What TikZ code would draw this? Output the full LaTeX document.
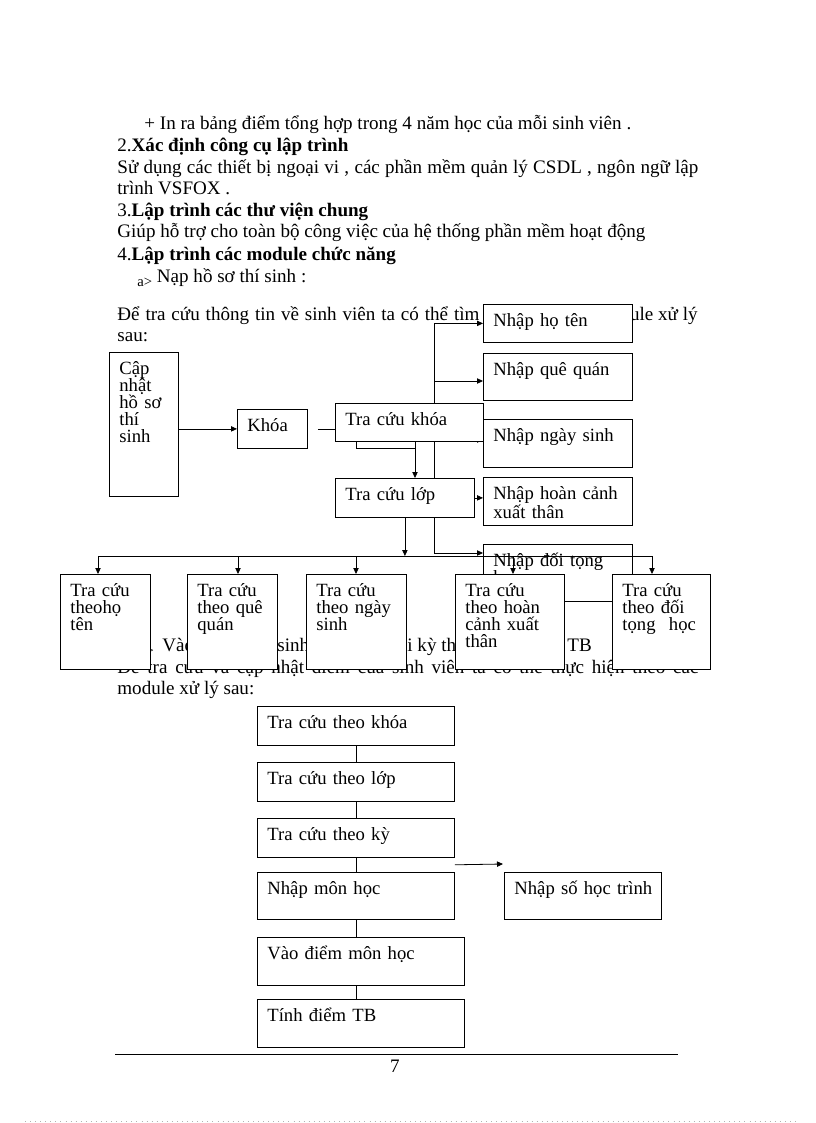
\documentclass[tikz,border=0pt]{standalone}
\usepackage{fontspec}
\setmainfont{Liberation Serif}
\usetikzlibrary{arrows.meta,calc}
\setlength{\lineskiplimit}{-20pt}

\begin{document}
\begin{tikzpicture}[x=0.75pt,y=-0.75pt,line width=0.6pt,
  txt/.style={anchor=base west,inner sep=0pt,font=\fontsize{14.3}{16}\selectfont},
  blk/.style 2 args={draw,fill=white,anchor=north west,inner xsep=7.5pt,inner ysep=0pt,
    align=left,font=\fontsize{14}{12.75}\selectfont,
    text width={(#1-20)*0.75pt},text height=16.5pt,text depth={(#2-22)*0.75pt}},
  arr/.style={-{Triangle[length=4.5pt,width=4pt]}}]

  % Page
  \useasboundingbox (0,0) rectangle (816,1123);
  \fill[white] (0,0) rectangle (816,1123);

  % Body text
  \node[txt] (plus) at (144,130) {+ In ra bảng điểm tổng hợp trong 4 năm học của mỗi sinh viên .};
  \node[txt] (h2) at (117,152) {2.\textbf{Xác định công cụ lập trình}};
  \node[txt] (p2a) at (117,174) {\makebox[435.75pt][s]{Sử dụng các thiết bị ngoại vi , các phần mềm quản lý CSDL , ngôn ngữ lập}};
  \node[txt] (p2b) at (117,195) {trình VSFOX .};
  \node[txt] (h3) at (117,217) {3.\textbf{Lập trình các thư viện chung}};
  \node[txt] (p3) at (117,238) {Giúp hỗ trợ cho toàn bộ công việc của hệ thống phần mềm hoạt động};
  \node[txt] (h4) at (117,260) {4.\textbf{Lập trình các module chức năng}};
  \node[txt] (ha) at (137,282) {\raisebox{-3pt}{\fontsize{11}{12}\selectfont a>} Nạp hồ sơ thí sinh :};
  \node[txt] (pa1) at (117,320) {\makebox[271.5pt][s]{Để tra cứu thông tin về sinh viên ta có thể tìm}};
  \node[txt,anchor=base east] (pa2) at (698,320) {ule xử lý};
  \node[txt] (pa3) at (117,341) {sau:};

  % Text under the lower boxes
  \node[txt] (hb) at (138,651) {\raisebox{-3pt}{\fontsize{11}{12}\selectfont b>}};
  \node[txt] (hb1) at (162,651) {Vào};
  \node[txt] (hb2) at (277,651) {sinh};
  \node[txt] (hb3) at (407,651) {i kỳ thi};
  \node[txt] (hb4) at (567,651) {TB};
  \node[txt] (pb1) at (117,673) {\makebox[435.75pt][s]{Để tra cứu và cập nhật điểm của sinh viên ta có thể thực hiện theo các}};
  \node[txt] (pb2) at (117,694) {module xử lý sau:};

  % Left part of the first diagram
  \node[blk={69}{144}] (cap) at (109,352) {Cập\\nhật\\hồ sơ\\thí\\sinh};
  \node[blk={70}{39}] (khoa) at (237,409) {Khóa};

  % Input boxes on the right
  \node[blk={149}{38}] (nht) at (483,304) {Nhập họ tên};
  \node[blk={149}{47}] (nqq) at (483,353) {Nhập quê quán};
  \node[blk={149}{48}] (nns) at (483,419) {Nhập ngày sinh};
  \node[blk={149}{48}] (nhc) at (483,477) {Nhập hoàn cảnh\\xuất thân};
  \node[blk={149}{57}] (ndt) at (483,544) {Nhập đối tọng\\học};

  % Trunk to the input boxes (behind the search boxes)
  \coordinate (tk) at (434,0);
  \draw (nht.west -| tk) -- ($(ndt.north west)+(-49,9)$);
  \draw[arr] (nht.west -| tk) -- (nht.west);
  \draw[arr] ($(nqq.north west)+(-49,28)$) -- ++(49,0);
  \draw[arr] ($(nns.north west)+(-49,21)$) -- ++(49,0);
  \draw[arr] ($(ndt.north west)+(-49,9)$) -- ++(49,0);

  % Search boxes
  \node[blk={148}{38}] (tck) at (335,403) {Tra cứu khóa};
  \node[blk={139}{39}] (tcl) at (335,478) {Tra cứu lớp};

  \draw[arr] (cap.east |- khoa.west) -- (khoa.west);
  \draw ($(khoa.east)+(10,0)$) -- (tck.west |- khoa.east);
  \draw[arr] ($(tck.south west)+(21,0)$) -- ++(0,7) -| ($(tcl.north west)+(80,0)$);
  \draw ($(tck.south west)+(80,0)$) -- ++(0,7);
  \draw[arr] (tcl.east) -- (nhc.west |- tcl.east);

  % Lookup boxes in the bottom row
  \node[blk={90}{95}] (s1) at (60,574) {Tra cứu\\theohọ\\tên};
  \node[blk={90}{95}] (s2) at (187,574) {Tra cứu\\theo quê\\quán};
  \node[blk={100}{95}] (s3) at (306,574) {Tra cứu\\theo ngày\\sinh};
  \node[blk={109}{95}] (s4) at (455,574) {Tra cứu\\theo hoàn\\cảnh xuất\\thân};
  \node[blk={98}{95}] (s5) at (612,574) {Tra cứu\\theo đối\\tọng\hspace{10pt}học};

  % Bus line
  \coordinate (bus) at (0,556);
  \draw[arr] (tcl.south) -- (tcl.south |- bus);
  \draw ($(s1.north west)+(38,-18)$) -- ($(s5.north west)+(40,-18)$);
  \foreach \b/\dx in {s1/38,s2/51,s3/50,s4/58,s5/40}
    \draw[arr] ($(\b.north west)+(\dx,-18)$) -- ($(\b.north west)+(\dx,0)$);

  % Second diagram
  \node[blk={197}{39}] (b1) at (257,706) {Tra cứu theo khóa};
  \node[blk={197}{39}] (b2) at (257,762) {Tra cứu theo lớp};
  \node[blk={197}{39}] (b3) at (257,818) {Tra cứu theo kỳ};
  \node[blk={197}{47}] (b4) at (257,872) {Nhập môn học};
  \node[blk={207}{48}] (b5) at (257,937) {Vào điểm môn học};
  \node[blk={207}{48}] (b6) at (257,999) {Tính điểm TB};
  \node[blk={157}{47}] (b7) at (504,872) {\mbox{Nhập số học trình}};

  \foreach \a/\b in {b1/b2,b2/b3,b3/b4,b4/b5,b5/b6}
    \draw ($(\a.south west)+(99,0)$) -- ($(\b.north west)+(99,0)$);
  \draw[arr] ($(b3.south east)+(0,7)$) -- ($(b7.north west)+(-1,-8)$);

  % Footer
  \draw (115,1054) -- (678,1054);
  \node[txt,anchor=base] (pg) at (395,1072) {7};
  \draw[gray!60,line width=0.4pt,dash pattern=on 0.6pt off 3.2pt] (25,1121) -- (799,1121);

\end{tikzpicture}
\end{document}
